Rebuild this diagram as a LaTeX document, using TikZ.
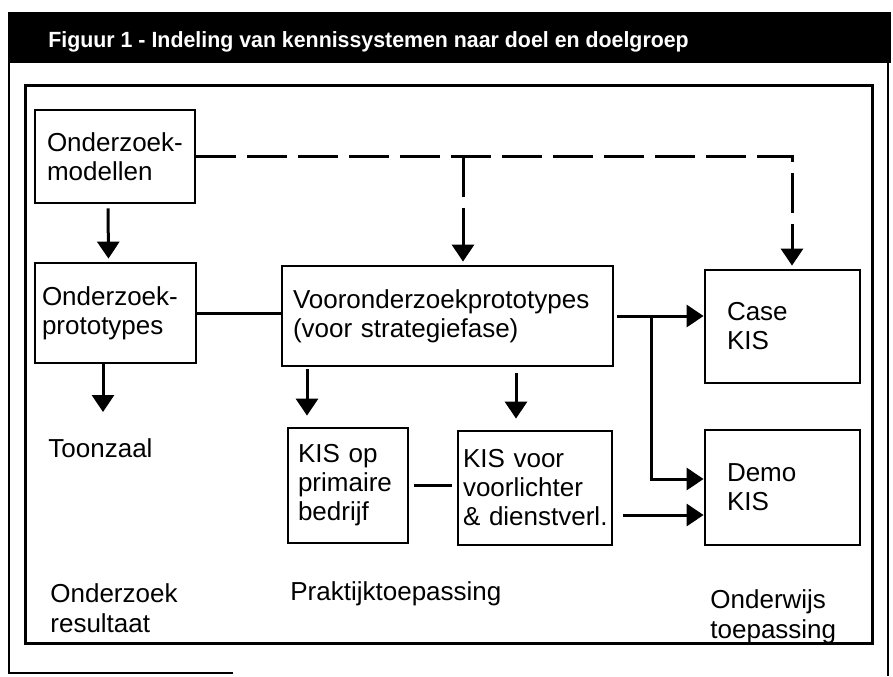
\documentclass[tikz,border=0pt]{standalone}
\usepackage{fontspec}
\setmainfont{Liberation Sans}
\usepackage{tikz}
\usetikzlibrary{arrows.meta, positioning}
\hyphenpenalty=10000
\exhyphenpenalty=10000
\hbadness=10000
\hfuzz=5pt

\begin{document}
\begin{tikzpicture}[
        x=0.5pt, y=-0.5pt,
        font=\fontsize{13}{14.5}\selectfont,
        box/.style={rectangle, draw, line width=1.4pt, align=left, inner ysep=0pt},
        txt/.style={anchor=north west, inner sep=0pt, align=left, font=\fontsize{13}{15}\selectfont},
        link/.style={line width=1.5pt},
        arrow/.style={link, -{Triangle[width=11pt,length=8.5pt]}},
        dasharrow/.style={arrow, dash pattern=on 20pt off 5.5pt}
    ]
        \useasboundingbox (0,0) rectangle (893,676);

        % kader en titelbalk
        \fill (8,12) rectangle (891,63);
        \node[anchor=base west, inner sep=0pt, text=white, font=\fontsize{11}{13}\selectfont\bfseries] (title) at (48,47)
            {\scalebox{0.97}[1]{Figuur 1 - Indeling van kennissystemen naar doel en doelgroep}};
        \draw[line width=0.8pt] (9,63) -- (9,673) -- (233,673);
        \draw[line width=0.8pt] (888,63) -- (888,676);
        \draw[line width=1.5pt] (25,85) rectangle (872,643);

        % blokken
        \node[box, text width=68pt, inner xsep=6pt, minimum height=46.5pt] (mod) at (115,156.5) {Onderzoek-\\modellen};
        \node[box, text width=73.5pt, inner xsep=3.5pt, minimum height=50pt] (proto) at (115.5,313) {Onderzoek-\\prototypes};
        \node[box, text width=154.5pt, inner xsep=5.5pt, minimum height=50pt] (voor) at (447.5,316) {Vooronderzoekprototypes\\(voor strategiefase)};
        \node[box, text width=55.5pt, inner xsep=11pt, minimum height=56.5pt] (case) at (782.5,326.5) {Case\\KIS};
        \node[box, text width=55.5pt, inner xsep=11pt, minimum height=57.5pt] (demo) at (782.5,487.5) {Demo\\KIS};
        \node[box, text width=50pt, inner xsep=5pt, minimum height=57.5pt] (kisop) at (348,485.5) {KIS op\\primaire\\bedrijf};
        \node[box, text width=72pt, inner xsep=2.5pt, minimum height=57pt] (kisvoor) at (535,488) {KIS voor\\voorlichter\\\&~dienstverl.};

        % teksten
        \node[txt] (toon) at (48,438) {Toonzaal};
        \node[txt] (res) at (50,583) {Onderzoek\\resultaat};
        \node[txt] (prak) at (290,581) {Praktijktoepassing};
        \node[txt] (onderw) at (710,589) {Onderwijs\\toepassing};

        % pijlen
        \draw[arrow, shorten <=2pt, shorten >=1.5pt] ([xshift=-3.5pt]mod.south) -- ([xshift=-3.5pt]proto.north);
        \draw[arrow, shorten >=13pt] ([xshift=-6.25pt]proto.south) -- ([xshift=-6.25pt]proto.south |- toon.north);
        \draw[link] (proto.east) -- (proto.east -| voor.west);
        \draw[arrow, shorten <=1pt, shorten >=5.5pt] ([xshift=-20.5pt]kisop.north |- voor.south) -- ([xshift=-20.5pt]kisop.north);
        \draw[arrow, shorten <=3pt, shorten >=5.5pt] ([xshift=-9.5pt]kisvoor.north |- voor.south) -- ([xshift=-9.5pt]kisvoor.north);
        \draw[link, shorten <=2.5pt, shorten >=2.5pt] (kisop.east) -- (kisop.east -| kisvoor.west);
        \draw[arrow, shorten <=1.5pt] (voor.east) -- (voor.east -| case.west);
        \coordinate (fork) at (651,316);
        \draw[arrow] (fork) |- ([yshift=4.25pt]demo.west);
        \draw[arrow, shorten <=5pt] ([yshift=-13.75pt]demo.west -| kisvoor.east) -- ([yshift=-13.75pt]demo.west);

        % stippellijnen
        \draw[dasharrow, shorten >=1.5pt] (mod.east) -| ([xshift=4.75pt]case.north);
        \draw[dasharrow, shorten >=1.5pt] ([xshift=7.75pt]voor.north |- mod.east) -- ([xshift=7.75pt]voor.north);
    \end{tikzpicture}
\end{document}
